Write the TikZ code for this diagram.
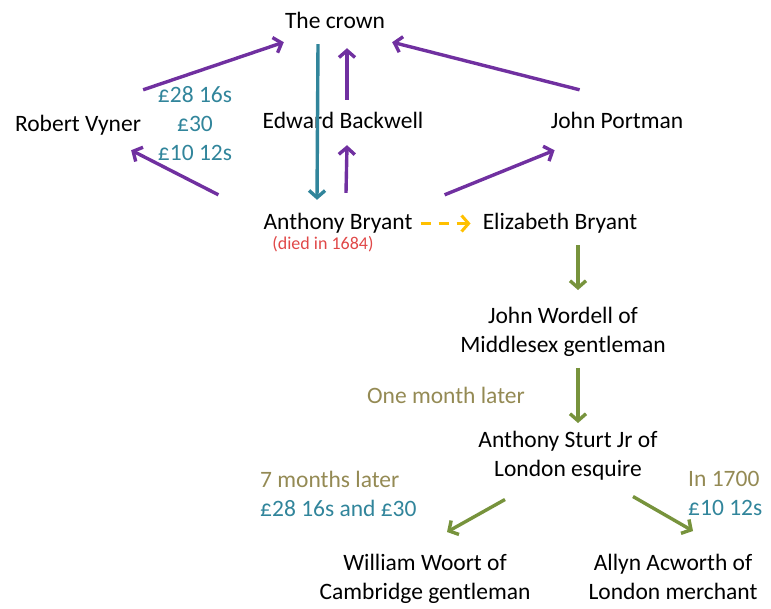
\documentclass[tikz,border=0pt]{standalone}
\usepackage{fontspec}
\setmainfont{Carlito}
\usetikzlibrary{positioning,arrows.meta}
\definecolor{crownpurple}{RGB}{112,48,160}
\definecolor{paidteal}{RGB}{49,133,155}
\definecolor{heirgreen}{RGB}{119,147,60}
\definecolor{wifeyellow}{RGB}{255,192,0}
\definecolor{diedred}{RGB}{224,72,72}
\definecolor{timeolive}{RGB}{148,138,84}

\begin{document}
\begin{tikzpicture}[x=1pt,y=-1pt,
    person/.style={font=\fontsize{23.5}{29}\selectfont, inner sep=1pt, text height=16pt, text depth=5pt},
    twoline/.style={font=\fontsize{23.5}{29}\selectfont, align=center, inner sep=1pt},
    note/.style={font=\fontsize{23.5}{29}\selectfont, align=left, inner sep=1pt},
    flow/.style={line width=3.4pt, -{Straight Barb[length=7pt,width=16pt]}}]
        \useasboundingbox (0,0) rectangle (771,608);

        \node[person, anchor=base] (crown) at (335,28) {The crown};
        \node[person, anchor=base] (vyner) at (78,131) {Robert Vyner};
        \node[person, anchor=base] (backwell) at (343,128) {Edward Backwell};
        \node[person, anchor=base] (portman) at (617,128) {John Portman};
        \node[person, anchor=base] (bryant) at (338,229) {Anthony Bryant};
        \node[below=0pt of bryant, xshift=-15pt, inner sep=1pt, font=\fontsize{18}{20}\selectfont, text=diedred] (died) {(died in 1684)};
        \node[person, anchor=base] (elizabeth) at (560,229) {Elizabeth Bryant};
        \node[twoline, text=paidteal, anchor=north] (sums) at (195,85) {£28 16s\\£30\\£10 12s};

        \node[twoline, anchor=north] (wordell) at (563,306) {John Wordell of\\Middlesex gentleman};
        \node[note, anchor=base, text=timeolive] (onemonth) at (446,403) {One month later};
        \node[twoline, anchor=north] (sturt) at (568,430) {Anthony Sturt Jr of\\London esquire};
        \node[note, anchor=north west] (sevenmonths) at (259,470) {\textcolor{timeolive}{7 months later}\\\textcolor{paidteal}{£28 16s and £30}};
        \node[note, anchor=north west] (inyear) at (687,470) {\textcolor{timeolive}{In 1700}\\\textcolor{paidteal}{£10 12s}};
        \node[twoline, anchor=north] (woort) at (425,553) {William Woort of\\Cambridge gentleman};
        \node[twoline, anchor=north] (acworth) at (673,553) {Allyn Acworth of\\London merchant};

        % money to and from the crown
        \draw[flow, crownpurple] ([xshift=1pt,yshift=24pt]vyner.north east) -- ([yshift=-8pt]crown.south west);
        \draw[flow, crownpurple] ([xshift=-44pt,yshift=17pt]bryant.north west) -- ([xshift=-11pt,yshift=-13pt]vyner.south east);
        \draw[flow, paidteal] ([xshift=-17pt,yshift=-10pt]crown.south) -- ([xshift=-21pt,yshift=12pt]bryant.north);
        \draw[flow, crownpurple] ([xshift=8pt,yshift=19pt]bryant.north) -- ([xshift=4pt,yshift=-11pt]backwell.south);
        \draw[flow, crownpurple] ([xshift=4pt,yshift=11pt]backwell.north) -- ([xshift=12pt,yshift=-14pt]crown.south);
        \draw[flow, crownpurple] ([xshift=30pt,yshift=21pt]portman.north west) -- ([xshift=6pt,yshift=-8pt]crown.south east);
        \draw[flow, crownpurple] ([xshift=31pt,yshift=17pt]bryant.north east) -- ([xshift=5pt,yshift=-16pt]portman.south west);
        \draw[flow, wifeyellow, line width=3pt, dash pattern=on 10pt off 8pt, shorten <=7pt, shorten >=11pt] (bryant) -- (elizabeth);

        % the later holders
        \draw[flow, heirgreen] ([xshift=18pt,yshift=-10pt]elizabeth.south) -- ([xshift=15pt,yshift=16pt]wordell.north);
        \draw[flow, heirgreen] ([xshift=15pt,yshift=-10pt]wordell.south) -- ([xshift=10pt,yshift=7pt]sturt.north);
        \draw[flow, heirgreen] ([xshift=-63pt,yshift=-18pt]sturt.south) -- ([xshift=22pt,yshift=21pt]woort.north);
        \draw[flow, heirgreen] ([xshift=65pt,yshift=-15pt]sturt.south) -- ([xshift=20pt,yshift=22pt]acworth.north);
    \end{tikzpicture}
\end{document}
